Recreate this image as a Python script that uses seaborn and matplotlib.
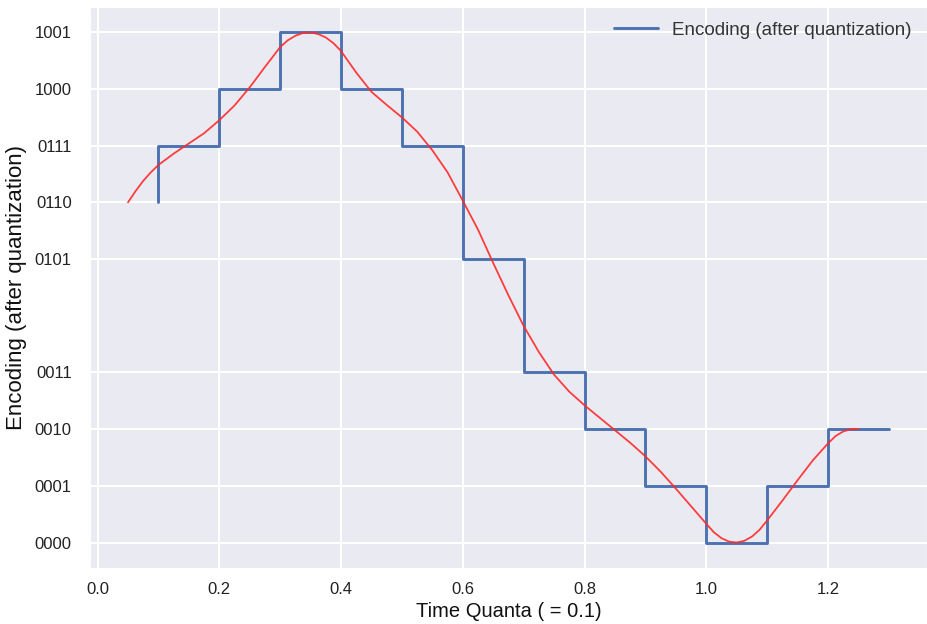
import matplotlib
matplotlib.use("Agg")
import matplotlib.pyplot as plt
import seaborn as sns
import pandas as pd

# Quantized encoding (step line)
step_x = [0.1, 0.2, 0.3, 0.4, 0.5, 0.6, 0.7, 0.8, 0.9, 1.0, 1.1, 1.2, 1.3]
step_y = [6, 7, 8, 9, 8, 7, 5, 3, 2, 1, 0, 1, 2]

# Original (continuous) signal
curve_x = [0.05, 0.0625, 0.075, 0.0875, 0.1, 0.125, 0.15, 0.175, 0.2, 0.225,
           0.25, 0.275, 0.3, 0.3125, 0.325, 0.3375, 0.35, 0.3625, 0.375, 0.3875,
           0.4, 0.425, 0.45, 0.475, 0.5, 0.525, 0.55, 0.575, 0.6, 0.625,
           0.65, 0.675, 0.7, 0.725, 0.75, 0.775, 0.8, 0.825, 0.85, 0.875,
           0.9, 0.925, 0.95, 0.975, 1.0, 1.0125, 1.025, 1.0375, 1.05, 1.0625,
           1.075, 1.0875, 1.1, 1.125, 1.15, 1.175, 1.2, 1.2125, 1.225, 1.2375,
           1.25]
curve_y = [6.00, 6.20, 6.38, 6.53, 6.66, 6.86, 7.04, 7.22, 7.45, 7.71,
           8.03, 8.39, 8.74, 8.86, 8.94, 8.99, 9.00, 8.97, 8.91, 8.81,
           8.67, 8.29, 7.95, 7.72, 7.50, 7.25, 6.92, 6.53, 6.03, 5.52,
           4.93, 4.36, 3.82, 3.36, 2.96, 2.66, 2.42, 2.20, 1.98, 1.76,
           1.52, 1.25, 0.95, 0.64, 0.33, 0.18, 0.076, 0.016, 0.00, 0.03,
           0.105, 0.225, 0.39, 0.74, 1.10, 1.45, 1.75, 1.88, 1.96, 2.00,
           2.00]

ytick_vals = [0, 1, 2, 3, 5, 6, 7, 8, 9]
ytick_labels = ["0000", "0001", "0010", "0011", "0101", "0110", "0111", "1000", "1001"]
xtick_vals = [0.0, 0.2, 0.4, 0.6, 0.8, 1.0, 1.2]
xtick_labels = ["0.0", "0.2", "0.4", "0.6", "0.8", "1.0", "1.2"]

sns.set_style("darkgrid")
plt.rcParams["font.family"] = ["Liberation Sans", "DejaVu Sans"]

fig = plt.figure(figsize=(9.27, 6.24), dpi=100)
ax = fig.add_axes([0.097, 0.0897, 0.903, 0.8993])

step_df = pd.DataFrame({"t": step_x, "code": step_y})
curve_df = pd.DataFrame({"t": curve_x, "val": curve_y})

sns.lineplot(data=step_df, x="t", y="code", ax=ax, color="#4C72B0",
             linewidth=2.1, drawstyle="steps-pre",
             label="Encoding (after quantization)")
sns.lineplot(data=curve_df, x="t", y="val", ax=ax, color="#FF2A2A",
             linewidth=1.3, alpha=0.9, sort=False)

ax.set_xlim(-0.0125, 1.3625)
ax.set_ylim(-0.45, 9.45)
ax.set_yticks(ytick_vals)
ax.set_yticklabels(ytick_labels)
ax.set_xticks(xtick_vals)
ax.set_xticklabels(xtick_labels)

ax.tick_params(axis="both", length=0, labelsize=12, labelcolor="#222222")
ax.tick_params(axis="x", pad=10)
ax.tick_params(axis="y", pad=13)

ax.grid(True, color="white", linewidth=1.5)
ax.set_xlabel("Time Quanta ( = 0.1)", fontsize=14.5, color="#111111", labelpad=4)
ax.set_ylabel("Encoding (after quantization)", fontsize=16, color="#111111", labelpad=6)

leg = ax.legend(loc="upper right", frameon=False, fontsize=13.5,
                handlelength=2.3, borderaxespad=0.4)
for t in leg.get_texts():
    t.set_color("#333333")

fig.savefig("out.png", dpi=100)
